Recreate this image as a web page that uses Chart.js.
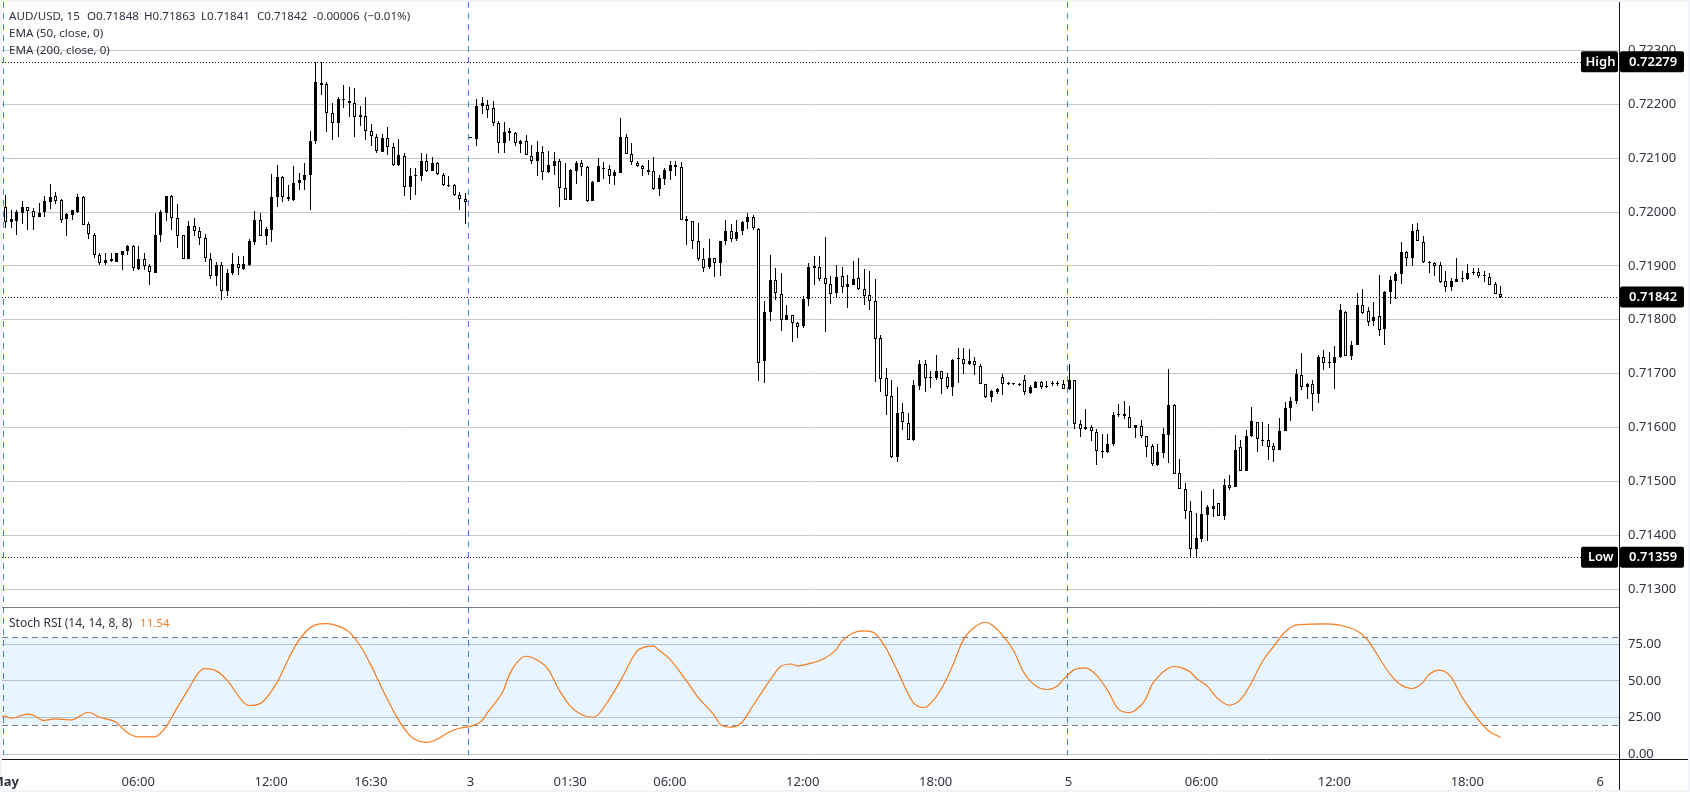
<!DOCTYPE html>
<html><head><meta charset="utf-8">
<style>
html,body{margin:0;padding:0;background:#f0f3fa;width:1690px;height:792px;overflow:hidden}
#sheet{position:absolute;left:2px;top:2px;width:1686px;height:788px;background:#fff}
canvas{position:absolute;left:0;top:0}
.t{position:absolute;font:11.6px "Noto Sans",sans-serif;color:#2f3340;white-space:pre;line-height:16px}
</style>
<script src="https://cdn.jsdelivr.net/npm/chart.js@4"></script>
</head><body>
<div id="sheet"></div>
<canvas id="c" width="1690" height="792"></canvas>
<div id="legend"></div>
<script>
// prices in 1e-5 units, bar index = array position
const opens=[72009,71981,71984,71999,72009,72002,71990,72000,72018,72029,
72023,71987,71995,72000,72028,71978,71958,71920,71906,71910,
71908,71921,71927,71937,71895,71913,71900,71887,71958,71999,
72029,71988,71957,71913,71974,71965,71952,71913,71881,71902,
71853,71887,71903,71895,71902,71945,71985,71955,71966,72028,
72065,72025,72023,72054,72059,72068,72132,72240,72238,72183,
72166,72208,72207,72202,72176,72179,72151,72139,72112,72137,
72120,72087,72104,72046,72066,72066,72094,72077,72091,72069,
72049,72050,72031,72024,72138,72136,72196,72198,72194,72165,
72128,72150,72146,72127,72131,72104,72094,72111,72075,72086,
72094,72044,72023,72077,72091,72083,72021,72055,72079,72080,
72066,72073,72139,72107,72091,72085,72075,72076,72042,72062,
72077,72087,72083,71987,71983,71946,71913,71898,71914,71905,
71946,71964,71949,71964,71981,71991,71968,71723,71815,71874,
71848,71799,71809,71794,71788,71839,71897,71898,71877,71867,
71849,71881,71860,71864,71877,71857,71846,71835,71767,71691,
71659,71546,71628,71609,71577,71677,71717,71692,71692,71704,
71693,71676,71727,71728,71717,71724,71715,71681,71657,71666,
71694,71680,71680,71679,71689,71664,71674,71685,71675,71681,
71681,71680,71672,71689,71607,71597,71600,71591,71555,71555,
71569,71623,71621,71620,71599,71602,71585,71565,71531,71553,
71586,71641,71515,71485,71444,71375,71393,71438,71449,71459,
71436,71493,71490,71563,71520,71584,71611,71575,71576,71565,
71559,71594,71636,71649,71698,71675,71680,71662,71731,71720,
71720,71731,71815,71733,71753,71828,71817,71797,71807,71783,
71851,71872,71885,71926,71914,71967,71944,71905,71905,71902,
71872,71860,71871,71875,71875,71886,71889,71881,71880,71866,
71848];
const highs=[72032,72004,72004,72021,72010,72007,72016,72029,72052,72038,
72024,71998,72004,72034,72030,71981,71961,71924,71924,71923,
71924,71928,71939,71939,71937,71924,71904,71998,72003,72030,
72032,72015,71958,71984,71989,71972,71960,71924,71908,71908,
71894,71924,71919,71918,71950,72002,71998,71972,72071,72087,
72067,72050,72086,72072,72091,72150,72279,72279,72242,72202,
72214,72236,72233,72231,72197,72213,72163,72145,72145,72157,
72128,72135,72110,72081,72081,72109,72108,72102,72092,72073,
72066,72052,72037,72035,72140,72210,72213,72208,72206,72169,
72167,72156,72149,72134,72143,72125,72132,72122,72114,72111,
72099,72091,72079,72094,72097,72085,72058,72100,72093,72087,
72078,72175,72144,72128,72094,72088,72097,72102,72069,72081,
72095,72095,72093,71993,71983,71980,71934,71949,71915,71946,
71986,71978,71986,71984,71998,71995,71970,71835,71920,71896,
71887,71828,71809,71796,71845,71906,71918,71919,71954,71882,
71901,71898,71884,71910,71915,71894,71891,71875,71771,71711,
71689,71675,71645,71627,71688,71725,71726,71704,71734,71704,
71702,71728,71748,71748,71745,71730,71717,71681,71669,71673,
71699,71684,71682,71683,71697,71678,71686,71686,71686,71686,
71686,71689,71717,71689,71613,71634,71605,71597,71588,71588,
71628,71643,71649,71639,71605,71614,71585,71569,71569,71599,
71708,71643,71541,71496,71464,71441,71482,71456,71486,71459,
71504,71512,71586,71576,71595,71638,71611,71610,71606,71572,
71617,71647,71656,71708,71739,71683,71688,71735,71744,71741,
71752,71830,71816,71760,71849,71857,71824,71833,71884,71853,
71881,71889,71945,71928,71978,71980,71956,71910,71907,71907,
71891,71878,71915,71891,71904,71896,71896,71891,71887,71870,
71863];
const lows=[71971,71971,71958,71978,71966,71966,71990,71991,72006,72014,
71979,71956,71986,71998,71975,71950,71915,71902,71901,71907,
71908,71893,71921,71890,71892,71892,71865,71887,71944,71983,
71966,71933,71912,71912,71956,71938,71908,71876,71862,71836,
71845,71884,71884,71893,71900,71938,71955,71938,71945,72010,
72018,72020,72021,72040,72040,72003,72126,72217,72149,72134,
72140,72194,72177,72140,72160,72133,72123,72110,72111,72105,
72086,72086,72029,72023,72032,72058,72074,72076,72069,72049,
72047,72030,72003,71978,72138,72122,72182,72175,72159,72109,
72109,72132,72123,72109,72105,72090,72066,72060,72072,72069,
72010,72022,72023,72052,72066,72018,72020,72055,72062,72052,
72051,72073,72107,72087,72083,72067,72069,72041,72030,72051,
72059,72067,71985,71938,71932,71909,71889,71895,71880,71882,
71938,71944,71946,71958,71969,71967,71686,71683,71798,71836,
71779,71799,71759,71766,71785,71825,71864,71872,71778,71830,
71840,71849,71821,71864,71855,71827,71819,71684,71666,71623,
71544,71536,71596,71577,71575,71670,71666,71673,71688,71662,
71672,71659,71683,71699,71716,71697,71681,71654,71648,71662,
71661,71679,71679,71677,71660,71663,71673,71672,71673,71677,
71677,71671,71670,71597,71583,71596,71574,71531,71544,71552,
71566,71619,71616,71599,71581,71581,71545,71529,71528,71544,
71534,71514,71485,71430,71359,71359,71388,71390,71434,71435,
71428,71483,71490,71520,71520,71583,71555,71565,71539,71536,
71559,71594,71612,71643,71670,71652,71631,71646,71706,71710,
71672,71729,71733,71725,71753,71810,71788,71789,71770,71754,
71830,71838,71867,71899,71899,71946,71905,71886,71881,71868,
71851,71854,71870,71870,71874,71884,71877,71871,71864,71847,
71841];
const closes=[71981,71987,72000,72009,72001,71990,71998,72020,72028,72021,
71986,71996,72003,72028,71976,71959,71920,71905,71911,71912,
71923,71928,71937,71896,71913,71899,71888,71957,72000,72029,
71989,71955,71913,71974,71964,71952,71914,71881,71902,71853,
71887,71904,71896,71903,71946,71986,71955,71969,72028,72065,
72028,72028,72054,72059,72069,72132,72241,72236,72183,72166,
72210,72210,72203,72176,72180,72151,72141,72113,72137,72120,
72087,72105,72046,72067,72067,72094,72077,72091,72070,72051,
72050,72031,72024,72018,72140,72196,72202,72190,72165,72128,
72148,72146,72128,72132,72106,72094,72111,72074,72087,72094,
72044,72023,72078,72091,72083,72021,72056,72085,72082,72067,
72074,72139,72107,72092,72085,72080,72078,72043,72063,72078,
72087,72083,71986,71983,71946,71913,71896,71915,71905,71946,
71965,71949,71963,71982,71991,71970,71720,71815,71874,71850,
71800,71809,71794,71787,71839,71898,71899,71875,71867,71848,
71880,71861,71867,71876,71857,71844,71835,71765,71690,71659,
71546,71626,71610,71577,71678,71718,71691,71693,71704,71690,
71675,71726,71728,71718,71724,71716,71681,71657,71667,71672,
71680,71680,71680,71680,71665,71676,71685,71676,71676,71682,
71682,71672,71689,71607,71598,71600,71593,71556,71556,71570,
71623,71624,71625,71599,71604,71585,71563,71533,71554,71587,
71641,71514,71485,71444,71375,71394,71439,71452,71454,71436,
71493,71488,71559,71520,71585,71612,71578,71576,71564,71559,
71594,71637,71650,71699,71675,71680,71662,71731,71720,71721,
71730,71819,71733,71754,71828,71813,71796,71806,71781,71852,
71874,71885,71926,71914,71965,71946,71907,71908,71899,71871,
71861,71872,71876,71876,71887,71889,71881,71882,71865,71848,
71842];
const rsiBars=[-1,0,1,4,5,7,9,12,15,17,20,22,24,27,29,31,33,35,36,38,40,43,44,46,49,52,54,56,58,60,62,64,66,68,71,73,74,76,78,80,82,84,86,87,90,91,93,94,96,98,100,102,104,106,107,109,111,114,115,117,118,120,123,125,128,129,131,133,135,138,140,142,143,145,148,150,151,153,155,157,159,161,164,166,167,169,171,173,175,177,178,180,182,184,186,188,190,191,193,195,197,199,201,203,205,206,207,208,210,211,212,213,214,215,217,219,221,223,225,227,229,231,233,235,238,241,244,246,247,250,252,254,256,257,259,261,263,266,268,270];
const rsiValues=[25.8,25.9,24.5,27.3,26.6,23,24.1,23.4,28.6,25.2,21.8,14.8,11.8,11.8,18.5,31.4,44,56,58.4,57,50.7,35.5,33.2,34.5,48.5,71.5,82.5,88.2,89.1,87.5,83.6,74.5,60.9,45,23.4,13,10,8,10.2,14.8,17.7,19,22.5,28,43.9,54.1,65,66.8,64.3,58,43.9,33,27,25.2,26.8,37,49.5,70,72.5,73.9,71.1,64.8,50,39.3,26.5,20.7,18.4,21.6,33,50,59.8,61.5,60.2,61.6,65.5,71.1,76.8,82.5,84.1,82.5,72.5,57.5,35,31.8,34.3,44.3,59.8,78,86.6,90,88.6,81.4,71.1,55.2,46.8,44.1,46.5,50.7,57.5,58.9,54.1,43.9,30.7,28.4,33,38.2,47,52,58.6,59.8,59.4,58,56,52,46.6,37.7,33.4,37,48.4,63.2,73.4,83,88,88.6,88.9,88,84.3,78,72.3,55,47.3,44.8,49,54,57.3,53,39.3,23.4,15.5,11.54];
const priceTicks=[0.723,0.722,0.721,0.72,0.719,0.718,0.717,0.716,0.715,0.714,0.713];
const rsiTicks=[75,50,25,0];
const rsiBandTop=80, rsiBandBottom=20;
const xTickBars=[0,24,48,66,84,102,120,144,168,192,216,240,264,288];
const xTickLabels=['May','06:00','12:00','16:30','3','01:30','06:00','12:00','18:00','5','06:00','12:00','18:00','6'];
const sessionLines=[-0.42,83.6,191.65];
const highPrice=0.72279, lowPrice=0.71359, lastPrice=0.71842;

const FONT='"Noto Sans",sans-serif';
const AXC='#2f3340';
const P=v=>v/1e5;
const isUp=i=>closes[i]>=opens[i];
const bars=opens.map((_,i)=>i);

const legendItems=[[9,8,'AUD/USD, 15'],[87,8,'O0.71848'],[144,8,'H0.71863'],[201,8,'L0.71841'],[257,8,'C0.71842'],[313,8,'-0.00006'],[364,8,'(−0.01%)'],
 [9,25,'EMA (50, close, 0)'],[9,42,'EMA (200, close, 0)'],[9,615,'Stoch RSI (14, 14, 8, 8)'],[140,615,'11.54','#f57c1f']];
const lg=document.getElementById('legend');
legendItems.forEach(([x,y,s,col])=>{const d=document.createElement('div');d.className='t';d.style.left=x+'px';d.style.top=y+'px';if(col)d.style.color=col;if(s.startsWith('Stoch'))d.style.fontSize='12px';d.textContent=s;lg.appendChild(d);});

const panelPlugin={id:'panelPlugin',
 beforeDatasetsDraw(ch){
  // pixel-snap candles the way the original renderer does
  ch.data.datasets.forEach((ds,di)=>{
    if(ds.type!=='bar')return;
    ch.getDatasetMeta(di).data.forEach(el=>{
      el.x=Math.round(el.x)+.5;
      const t=Math.round(Math.min(el.y,el.base));
      let b=Math.round(Math.max(el.y,el.base));
      if(b<=t)b=t+1;
      el.y=t;el.base=b;el.height=b-t;
    });
  });
  const c=ch.ctx,a=ch.chartArea,X=ch.scales.x,Y=ch.scales.y,R=ch.scales.rsi;
  c.save();
  const bt=R.getPixelForValue(rsiBandTop),bb=R.getPixelForValue(rsiBandBottom);
  c.fillStyle='rgba(33,150,243,0.1)';c.fillRect(a.left,bt,a.right-a.left,bb-bt);
  c.strokeStyle='#787b86';c.lineWidth=1;c.setLineDash([6,4]);
  [bt,bb].forEach(y=>{c.beginPath();c.moveTo(a.left,Math.round(y)+.5);c.lineTo(a.right,Math.round(y)+.5);c.stroke();});
  c.strokeStyle='#4580e0';c.setLineDash([6,5]);
  sessionLines.forEach(v=>{const x=Math.round(X.getPixelForValue(v))+.5;
    c.beginPath();c.moveTo(x,a.top);c.lineTo(x,R.getPixelForValue(0)+1);c.stroke();});
  c.strokeStyle='#131722';c.setLineDash([1,2]);
  [[highPrice,1582],[lowPrice,1582],[lastPrice,a.right]].forEach(([v,e])=>{const y=Math.round(Y.getPixelForValue(v))+.5;
    c.beginPath();c.moveTo(a.left,y);c.lineTo(e,y);c.stroke();});
  c.setLineDash([]);c.strokeStyle='#787b86';c.beginPath();c.moveTo(a.left,Y.bottom+.5);c.lineTo(a.right,Y.bottom+.5);c.stroke();
  c.restore();
 },
 afterDraw(ch){
  const c=ch.ctx,a=ch.chartArea,Y=ch.scales.y;
  c.save();
  c.strokeStyle='#131722';c.lineWidth=1;
  c.beginPath();c.moveTo(a.right+.5,2);c.lineTo(a.right+.5,790);c.stroke();
  c.beginPath();c.moveTo(2,a.bottom+.5);c.lineTo(1688,a.bottom+.5);c.stroke();
  const tag=(x,w,y,s,align)=>{c.fillStyle='#000';c.beginPath();c.roundRect(x,y-10.5,w,21,2);c.fill();
    c.fillStyle='#fff';c.font='600 13px '+FONT;c.textBaseline='middle';c.textAlign='left';c.fillText(s,x+align,y+.5);};
  [[highPrice,'High'],[lowPrice,'Low'],[lastPrice,null]].forEach(([v,l])=>{
    const y=Y.getPixelForValue(v);
    if(l) tag(1581,37,y,l,l==='High'?4.5:7);
    tag(1620,64,y,v.toFixed(5),9);
  });
  c.restore();
 }};

new Chart(document.getElementById('c'),{
 type:'bar',
 plugins:[panelPlugin],
 data:{datasets:[
  {type:'line',label:'Stoch RSI',yAxisID:'rsi',order:0,data:rsiBars.map((b,i)=>({x:b,y:rsiValues[i]})),
   borderColor:'#f57c1f',borderWidth:1.2,pointRadius:0,cubicInterpolationMode:'monotone',fill:false},
  {type:'bar',label:'Body',yAxisID:'y',order:1,grouped:false,barThickness:3,minBarLength:1,inflateAmount:0,
   data:bars.map(i=>({x:i,y:[P(opens[i]),P(closes[i])]})),
   backgroundColor:bars.map(i=>isUp(i)?'#000':'#fff'),borderColor:'#000',borderWidth:bars.map(i=>isUp(i)?0:1),borderSkipped:false},
  {type:'bar',label:'Wick',yAxisID:'y',order:2,grouped:false,barThickness:1,inflateAmount:0,
   data:bars.map(i=>({x:i,y:[P(lows[i]),P(highs[i])]})),backgroundColor:'#000',borderWidth:0}
 ]},
 options:{
  responsive:false,animation:false,devicePixelRatio:1,
  layout:{autoPadding:false,padding:{left:2,top:2,right:2,bottom:2}},
  plugins:{legend:{display:false},tooltip:{enabled:false},title:{display:false}},
  scales:{
   x:{type:'linear',offset:false,min:-0.596,max:291.4,
      grid:{display:false},border:{display:false},
      afterBuildTicks(s){s.ticks=xTickBars.map(v=>({value:v}));},
      afterFit(s){s.height=31;s.paddingLeft=0;s.paddingRight=0;},
      ticks:{autoSkip:false,maxRotation:0,padding:7,color:AXC,
        font:c=>({family:FONT,size:13,weight:c.index===0?'bold':'normal'}),
        callback:(v,i)=>xTickLabels[i]}},
   y:{type:'linear',position:'right',stack:'panes',stackWeight:605,min:0.712666,max:0.7239,
      grid:{color:'#c9c9c9',lineWidth:1,drawTicks:false},border:{display:false},
      afterBuildTicks(s){s.ticks=priceTicks.map(v=>({value:v}));},
      afterFit(s){s.width=69;s.paddingTop=0;s.paddingBottom=0;},
      ticks:{color:AXC,padding:9,font:{family:FONT,size:13},callback:v=>v.toFixed(5)}},
   rsi:{type:'linear',position:'right',stack:'panes',stackWeight:152,min:-3.3,max:100.4,
      grid:{color:'#c9c9c9',lineWidth:1,drawTicks:false},border:{display:false},
      afterBuildTicks(s){s.ticks=rsiTicks.map(v=>({value:v}));},
      afterFit(s){s.width=69;s.paddingTop=0;s.paddingBottom=0;},
      ticks:{color:AXC,padding:9,font:{family:FONT,size:13},callback:v=>v.toFixed(2)}}
  }
 }
});
</script>
</body></html>
